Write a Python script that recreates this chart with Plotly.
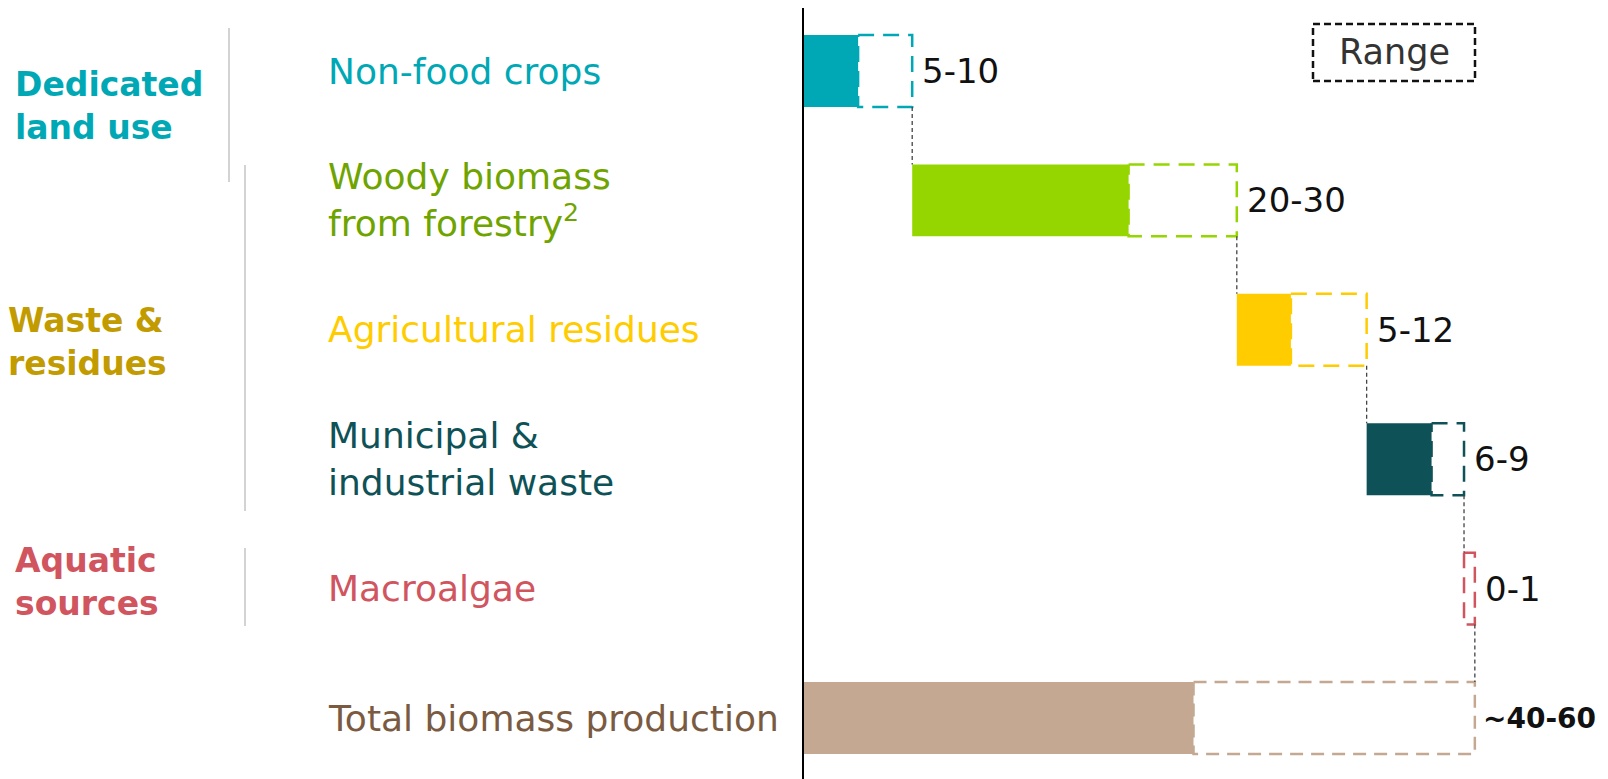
import plotly.graph_objects as go

# ---------------- data ----------------
categories = ["Non-food crops", "Woody biomass from forestry", "Agricultural residues",
              "Municipal & industrial waste", "Macroalgae", "Total biomass production"]
low_values = [5, 20, 5, 6, 0]
high_values = [10, 30, 12, 9, 1]
range_labels = ["5-10", "20-30", "5-12", "6-9", "0-1", "~40-60"]

label_texts = ["Non-food crops", "Woody biomass<br>from forestry<sup>2</sup>",
               "Agricultural residues", "Municipal &<br>industrial waste",
               "Macroalgae", "Total biomass production"]
group_labels = ["Dedicated<br>land use", "Waste &<br>residues", "Aquatic<br>sources"]

bar_colors = ["#00A8B5", "#96D600", "#FFCC00", "#0E5257", "#D0555F", "#C4A892"]
label_colors = ["#00A8B5", "#6FA400", "#FFCC00", "#0E5257", "#D0555F", "#7A5B42"]
group_colors = ["#00A8B5", "#C29B00", "#D0555F"]

FONT = "DejaVu Sans"

# ---------------- derived waterfall ----------------
starts = []
acc = 0
for h in high_values:
    starts.append(acc)
    acc += h
total_low = sum(low_values)
total_high = sum(high_values)

all_start = starts + [0]
all_low = low_values + [total_low]
all_high = high_values + [total_high]
ypos = list(range(len(categories)))
BW = 0.556

# figure geometry (pixels)
FW, FH = 1608, 779
L, R, T, B = 804, 0, 8, 0
PW, PH = FW - L - R, FH - T - B


def px_x(p):
    return (p - L) / PW


def px_y(p):
    return 1 - (p - T) / PH


fig = go.Figure()

# dashed range outlines
for i in ypos:
    x0 = all_start[i] + all_low[i]
    x1 = all_start[i] + all_high[i]
    y0, y1 = ypos[i] - BW / 2, ypos[i] + BW / 2
    dash = "13px,8px" if i == 5 else "16px,9px"
    fig.add_trace(go.Scatter(x=[x0, x1, x1, x0, x0], y=[y0, y0, y1, y1, y0], mode="lines",
                             line=dict(color=bar_colors[i], width=2.5, dash=dash),
                             hoverinfo="skip", showlegend=False))

# solid bars (low values)
fig.add_trace(go.Bar(orientation="h", y=ypos, x=all_low, base=all_start, width=BW,
                     marker=dict(color=bar_colors, line=dict(width=0)),
                     hoverinfo="skip", showlegend=False))

# connectors
for i in range(len(categories) - 1):
    xe = all_start[i] + all_high[i]
    fig.add_trace(go.Scatter(x=[xe, xe], y=[ypos[i] + BW / 2, ypos[i + 1] - BW / 2],
                             mode="lines", line=dict(color="#444444", width=1.3, dash="4px,3px"),
                             hoverinfo="skip", showlegend=False))

annotations = []
# value labels
for i in ypos:
    is_total = i == len(ypos) - 1
    annotations.append(dict(x=all_start[i] + all_high[i], y=ypos[i], xref="x", yref="y",
                            text=("<b>%s</b>" % range_labels[i]) if is_total else range_labels[i],
                            xanchor="left", yanchor="middle", xshift=6 if is_total else 8,
                            showarrow=False,
                            font=dict(family=FONT, size=28 if is_total else 34, color="#111111")))

# category labels
for i, txt in enumerate(label_texts):
    annotations.append(dict(x=px_x(326), y=ypos[i], xref="paper", yref="y", text=txt,
                            xanchor="left", yanchor="middle", align="left", showarrow=False,
                            font=dict(family=FONT, size=36, color=label_colors[i])))

# group labels
group_y = [106, 342, 582]
group_x = [13, 6, 13]
for g, txt in enumerate(group_labels):
    annotations.append(dict(x=px_x(group_x[g]), y=px_y(group_y[g]), xref="paper",
                            yref="paper", text="<b>%s</b>" % txt.replace("<br>", "</b><br><b>"),
                            xanchor="left", yanchor="middle", align="left", showarrow=False,
                            font=dict(family=FONT, size=33, color=group_colors[g])))

# legend "Range"
annotations.append(dict(x=px_x(1394), y=px_y(52), xref="paper", yref="paper", text="Range",
                        xanchor="center", yanchor="middle", showarrow=False,
                        font=dict(family=FONT, size=35, color="#333333")))

shapes = [
    dict(type="rect", xref="paper", yref="paper", x0=px_x(1313), x1=px_x(1475),
         y0=px_y(81), y1=px_y(24), line=dict(color="#111111", width=2.5, dash="7px,4px")),
    dict(type="line", xref="paper", yref="paper", x0=px_x(229), x1=px_x(229),
         y0=px_y(28), y1=px_y(182), line=dict(color="#D3D3D3", width=2)),
    dict(type="line", xref="paper", yref="paper", x0=px_x(245), x1=px_x(245),
         y0=px_y(165), y1=px_y(511), line=dict(color="#D3D3D3", width=2)),
    dict(type="line", xref="paper", yref="paper", x0=px_x(245), x1=px_x(245),
         y0=px_y(548), y1=px_y(626), line=dict(color="#D3D3D3", width=2)),
]

xmax = PW / 10.82
fig.update_layout(
    width=FW, height=FH, margin=dict(l=L, r=R, t=T, b=B, pad=0),
    paper_bgcolor="white", plot_bgcolor="white",
    xaxis=dict(range=[0, xmax], showgrid=False, zeroline=False, showticklabels=False,
               ticks="", showline=False, fixedrange=True),
    yaxis=dict(range=[5 + (FH - 718) / 129.4, -(71 - T) / 129.4], showgrid=False,
               zeroline=False, showticklabels=False, ticks="", showline=True,
               linecolor="black", linewidth=2, fixedrange=True),
    annotations=annotations, shapes=shapes, barmode="overlay",
)

fig.write_html("out.html", config={"displayModeBar": False},
               post_script="document.body.style.margin='0px';document.body.style.overflow='hidden';")
